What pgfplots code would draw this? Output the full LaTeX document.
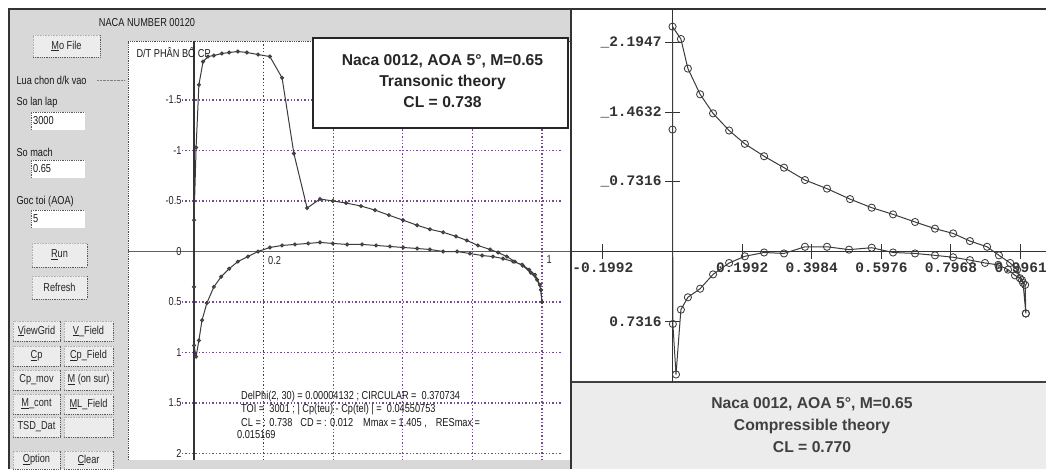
\documentclass[border=0pt]{standalone}
\usepackage{fontspec}
\setmainfont{Liberation Sans}
\newfontfamily\ui[FakeStretch=0.8]{Liberation Sans}
\newfontfamily\mono{Liberation Mono}
\usepackage{pgfplots}
\pgfplotsset{compat=1.18}
\definecolor{panel}{RGB}{216,216,216}
\definecolor{panelb}{RGB}{236,236,236}
\definecolor{gridc}{RGB}{115,75,145}
\definecolor{curve}{RGB}{60,60,60}
\newcommand{\uif}{\ui\fontsize{11.5}{13}\selectfont}
\newcommand{\btn}[5]{%
  \fill[panel!50!white] (#1,#2) rectangle (#3,#4);
  \draw[densely dotted, black!65, line width=0.8pt] (#1,#4) -- (#3,#4) -- (#3,#2);
  \draw[densely dotted, black!30, line width=0.6pt] (#1,#4) -- (#1,#2) -- (#3,#2);
  \node[font=\uif, text=black!85] at ({(#1+#3)/2},{(#2+#4)/2}) {#5};}
\newcommand{\tbox}[5]{%
  \fill[white] (#1,#2) rectangle (#3,#4);
  \draw[densely dotted, black!65, line width=0.8pt] (#1,#4) -- (#1,#2) -- (#3,#2);
  \node[font=\uif, text=black!90, anchor=west, inner sep=1pt] at (#1+1,{(#2+#4)/2}) {#5};}
\begin{document}
\begin{tikzpicture}[x=1pt,y=1pt]
\path[use as bounding box] (0,0) rectangle (1046,469);
\fill[white] (0,0) rectangle (1046,469);
\begin{scope}[shift={(0,469)}, y=-1pt]
  % left window
  \fill[panel] (8,9) rectangle (571,469);
  \fill[white] (128,41) rectangle (570,460);
  \draw[densely dotted, black!70, line width=0.8pt] (128,460) -- (128,41) -- (570,41);
  % right bottom panel
  \fill[panelb] (572,382) rectangle (1046,469);
  % frame lines
  \draw[black!80, line width=1.3pt] (9,469) -- (9,9) -- (1046,9);
  \draw[black!80, line width=1.3pt] (571,9) -- (571,469);
  \draw[black!75, line width=1.3pt] (572,382) -- (1046,382);
  % UI
  \node[font=\uif, text=black!90] at (147,23) {NACA NUMBER 00120};
  \btn{33}{35}{100}{57}{\underline{M}o File}
  \node[font=\uif, text=black!90, anchor=west] at (13,80) {Lua chon d/k vao};
  \draw[densely dotted, black!50] (97,80) -- (125,80);
  \node[font=\uif, text=black!90, anchor=west] at (13,103) {So lan lap};
  \tbox{31}{112}{85}{130}{3000}
  \node[font=\uif, text=black!90, anchor=west] at (13,152) {So mach};
  \tbox{31}{160}{85}{178}{0.65}
  \node[font=\uif, text=black!90, anchor=west] at (13,202) {Goc toi (AOA)};
  \tbox{31}{210}{85}{228}{5}
  \btn{32}{243}{87}{267}{\underline{R}un}
  \btn{32}{276}{87}{299}{Refresh}
  \btn{13}{321}{60}{341}{\underline{V}iewGrid}
  \btn{64}{321}{113}{341}{\underline{V}\_Field}
  \btn{13}{346}{60}{366}{\underline{C}p}
  \btn{64}{346}{113}{366}{\underline{C}p\_Field}
  \btn{13}{370}{60}{390}{Cp\_mov}
  \btn{64}{370}{113}{390}{\underline{M} (on sur)}
  \btn{13}{394}{60}{414}{\underline{M}\_cont}
  \btn{64}{394}{113}{414}{\underline{M}L\_Field}
  \btn{13}{417}{60}{437}{TSD\_Dat}
  \btn{64}{417}{113}{437}{}
  \btn{13}{451}{60}{469}{\underline{O}ption}
  \btn{64}{451}{113}{469}{\underline{C}lear}
\end{scope}

% ---------- left chart ----------
\begin{axis}[
  at={(128pt,9pt)}, anchor=south west, scale only axis,
  width=442pt, height=419pt,
  xmin=-0.1897, xmax=1.0805, ymin=-2.084, ymax=2.064, y dir=reverse,
  axis lines=middle, axis line style={-},
  x axis line style={draw={rgb,255:red,105;green,80;blue,170}, line width=1.3pt},
  y axis line style={draw=black!80, line width=1.2pt},
  xtick={0.2,1}, xticklabels={0.2,1},
  ytick={-1.5,-1,-0.5,0,0.5,1,1.5,2}, yticklabels={-1.5,-1,-0.5,0,0.5,1,1.5,2},
  major tick length=0pt,
  hide obscured x ticks=false, hide obscured y ticks=false,
  tick label style={font=\uif, text=black!85},
  xticklabel style={anchor=north west, xshift=1pt, yshift=-1pt},
  yticklabel style={anchor=east, xshift=-9pt},
  clip=false,
]
\pgfplotsinvokeforeach{0.4,0.6,0.8,1}{
  \draw[gridc, dash pattern=on 1.3pt off 2.1pt, line width=1.1pt] (axis cs:#1,-2.084) -- (axis cs:#1,2.064);}
\draw[black!75, dash pattern=on 1.3pt off 2.1pt, line width=1.1pt] (axis cs:0.2,-2.084) -- (axis cs:0.2,2.064);
\pgfplotsinvokeforeach{-1.5,-1,-0.5,0.5,1,1.5,2}{
  \draw[gridc, dash pattern=on 1.3pt off 2.1pt, line width=1.1pt] (axis cs:-0.035,#1) -- (axis cs:1.055,#1);}
\addplot[curve, line width=1pt, mark=*, mark size=1.5pt, mark options={fill=curve!80, draw=curve}] coordinates {
(1.0,0.50)(0.997,0.38)(0.986,0.28)(0.968,0.21)(0.945,0.14)(0.922,0.10)(0.899,0.05)(0.874,0.01)(0.851,-0.02)(0.816,-0.06)(0.784,-0.11)(0.753,-0.15)(0.716,-0.19)(0.678,-0.22)(0.641,-0.26)(0.601,-0.31)(0.560,-0.36)(0.520,-0.41)(0.480,-0.45)(0.437,-0.48)(0.399,-0.50)(0.362,-0.52)(0.325,-0.43)(0.287,-0.97)(0.253,-1.72)(0.218,-1.93)(0.184,-1.95)(0.152,-1.97)(0.126,-1.98)(0.101,-1.97)(0.080,-1.96)(0.057,-1.94)(0.040,-1.93)(0.026,-1.88)(0.014,-1.65)(0.006,-1.03)(0,-0.31)(0,0.35)(0,0.93)(0.006,1.04)(0.014,0.88)(0.023,0.68)(0.037,0.51)(0.057,0.35)(0.078,0.25)(0.101,0.17)(0.126,0.10)(0.155,0.05)(0.184,0.00)(0.218,-0.04)(0.253,-0.06)(0.290,-0.07)(0.328,-0.08)(0.362,-0.09)(0.399,-0.08)(0.440,-0.07)(0.483,-0.07)(0.523,-0.06)(0.563,-0.05)(0.601,-0.04)(0.641,-0.03)(0.678,-0.02)(0.716,0.00)(0.756,0.00)(0.793,0.02)(0.828,0.04)(0.859,0.05)(0.888,0.07)(0.917,0.10)(0.943,0.13)(0.963,0.18)(0.980,0.23)(0.994,0.33)(1.0,0.50)
};
\end{axis}

% ---------- right chart ----------
\begin{axis}[
  at={(572pt,87pt)}, anchor=south west, scale only axis,
  width=474pt, height=373pt,
  xmin=-0.2876, xmax=1.0687, ymin=-1.369, ymax=2.545,
  axis lines=middle, axis line style={-, black!80, line width=1.3pt},
  xtick={-0.1992,0.1992,0.3984,0.5976,0.7968,0.9961},
  xticklabels={-0.1992,0.1992,0.3984,0.5976,0.7968,0.9961},
  ytick={-0.7316,0.7316,1.4632,2.1947},
  yticklabels={0.7316,\_0.7316,\_1.4632,\_2.1947},
  major tick length=15pt, tick align=center,
  tick style={black!80, line width=1pt},
  hide obscured x ticks=false, hide obscured y ticks=false,
  tick label style={font=\mono\bfseries\fontsize{14.5}{16}\selectfont, text=black!80},
  xticklabel style={anchor=north},
  yticklabel style={anchor=east},
  clip=false,
]
\addplot[curve, line width=1pt, mark=o, mark size=3.6pt, mark options={line width=0.85pt}] coordinates {
(1.011,-0.65)(1.003,-0.33)(0.994,-0.28)(0.980,-0.25)(0.960,-0.19)(0.932,-0.14)(0.894,-0.12)(0.851,-0.09)(0.803,-0.06)(0.751,-0.04)(0.694,-0.02)(0.631,-0.01)(0.570,0.04)(0.505,0.02)(0.442,0.05)(0.379,0.05)(0.319,-0.02)(0.262,-0.01)(0.207,-0.05)(0.162,-0.12)(0.116,-0.24)(0.079,-0.39)(0.044,-0.48)(0.024,-0.61)(0.010,-1.29)(0.001,-0.76)(0,1.28)(0,2.36)(0.024,2.23)(0.044,1.92)(0.079,1.65)(0.116,1.45)(0.162,1.27)(0.207,1.13)(0.262,1.00)(0.319,0.88)(0.379,0.75)(0.442,0.66)(0.508,0.55)(0.570,0.46)(0.631,0.39)(0.694,0.31)(0.751,0.24)(0.803,0.19)(0.851,0.11)(0.900,0.05)(0.934,-0.04)(0.966,-0.12)(0.986,-0.19)(1.0,-0.30)(1.009,-0.35)(1.011,-0.65)
};
\end{axis}

% overlay texts
\begin{scope}[shift={(0,469)}, y=-1pt]
  \node[font=\uif, text=black!90, anchor=west] at (133,52) {D/T PHÂN BỐ CP};
  \draw[fill=white, line width=1.3pt, draw=black!85] (313,38) rectangle (568,128);
  \node[font=\bfseries\fontsize{15.7}{21}\selectfont, align=center, text=black!85] at (442.5,81) {Naca 0012, AOA 5°, M=0.65\\Transonic theory\\CL = 0.738};
  \node[font=\bfseries\fontsize{15.7}{22}\selectfont, align=center, text=black!75] at (812,425) {Naca 0012, AOA 5°, M=0.65\\Compressible theory\\CL = 0.770};
  \node[font=\uif, text=black!90, anchor=west, inner sep=0pt] at (241,397) {DelPhi(2, 30) = 0.00004132 ; CIRCULAR = \ 0.370734};
  \node[font=\uif, text=black!90, anchor=west, inner sep=0pt] at (241,410) {TOI = \ 3001 ; | Cp(teu) - Cp(tel) | = \ 0.04550753};
  \node[font=\uif, text=black!90, anchor=west, inner sep=0pt] at (241,423) {CL = : 0.738\hspace{8pt}CD = : 0.012\hspace{10pt}Mmax = 1.405 ,\hspace{9pt}RESmax =};
  \node[font=\uif, text=black!90, anchor=west, inner sep=0pt] at (237,435) {0.015169};
\end{scope}
\end{tikzpicture}
\end{document}
